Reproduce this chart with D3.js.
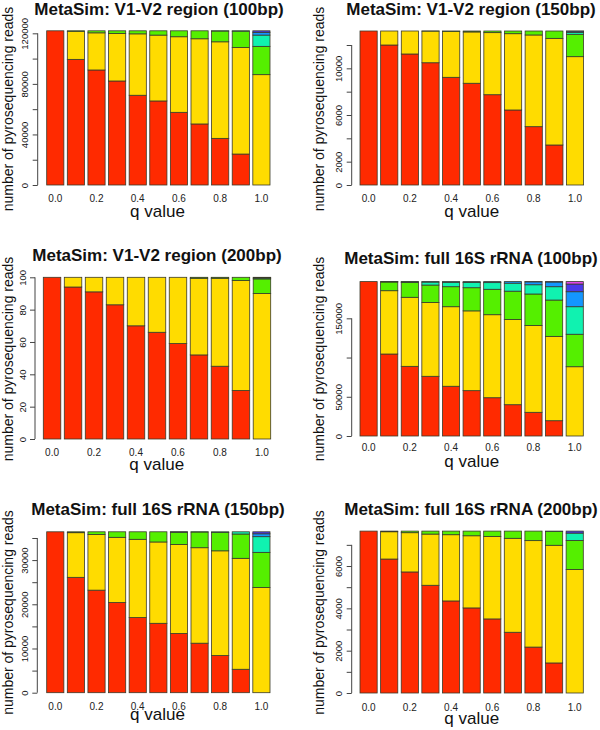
<!DOCTYPE html>
<html><head><meta charset="utf-8">
<script src="https://cdn.jsdelivr.net/npm/d3@7"></script>
<style>
body{margin:0;background:#fff}
svg{display:block}
text{font-family:"Liberation Sans",Arial,sans-serif;fill:#111}
</style>
</head><body>
<svg id="chart" width="600" height="730"></svg>
<script>
// ---------- DATA ----------
const qValues = ["0.0","0.1","0.2","0.3","0.4","0.5","0.6","0.7","0.8","0.9","1.0"];
const qTickLabels = ["0.0","0.2","0.4","0.6","0.8","1.0"];
const yLabel = "number of pyrosequencing reads";
const xLabel = "q value";
const panelTitles = [
  "MetaSim: V1-V2 region (100bp)",
  "MetaSim: V1-V2 region (150bp)",
  "MetaSim: V1-V2 region (200bp)",
  "MetaSim: full 16S rRNA (100bp)",
  "MetaSim: full 16S rRNA (150bp)",
  "MetaSim: full 16S rRNA (200bp)"
];
const seriesKeys = ["s1","s2","s3","s4","s5","s6","s7"];

// stacked series (bottom -> top), one row per stack level
const v1v2_100bp = [
  [122000, 99400, 91000, 82300, 71000, 66500, 57500, 48300, 36900, 24500, 0],
  [0, 22200, 29400, 37600, 48600, 52100, 59800, 67400, 76400, 84300, 87300],
  [0, 400, 1600, 2100, 2400, 3400, 4700, 6300, 8500, 12900, 22400],
  [0, 0, 0, 0, 0, 0, 0, 0, 200, 300, 8900],
  [0, 0, 0, 0, 0, 0, 0, 0, 0, 0, 2200],
  [0, 0, 0, 0, 0, 0, 0, 0, 0, 0, 1200],
  [0, 0, 0, 0, 0, 0, 0, 0, 0, 0, 0]
];
const v1v2_150bp = [
  [13200, 12000, 11230, 10480, 9230, 8720, 7740, 6430, 5000, 3430, 0],
  [0, 1200, 1970, 2710, 3940, 4400, 5320, 6540, 7860, 9140, 11000],
  [0, 0, 0, 10, 30, 80, 140, 230, 340, 630, 1915],
  [0, 0, 0, 0, 0, 0, 0, 0, 0, 0, 170],
  [0, 0, 0, 0, 0, 0, 0, 0, 0, 0, 100],
  [0, 0, 0, 0, 0, 0, 0, 0, 0, 0, 15],
  [0, 0, 0, 0, 0, 0, 0, 0, 0, 0, 0]
];
const v1v2_200bp = [
  [100, 94, 91, 83, 70, 66, 59, 52, 45, 30, 0],
  [0, 6, 9, 17, 30, 34, 41, 47.4, 54.4, 68, 90],
  [0, 0, 0, 0, 0, 0, 0, 0.6, 0.6, 2, 9],
  [0, 0, 0, 0, 0, 0, 0, 0, 0, 0, 0.6],
  [0, 0, 0, 0, 0, 0, 0, 0, 0, 0, 0.4],
  [0, 0, 0, 0, 0, 0, 0, 0, 0, 0, 0],
  [0, 0, 0, 0, 0, 0, 0, 0, 0, 0, 0]
];
const full16S_100bp = [
  [196800, 104500, 88800, 76100, 63400, 57800, 48800, 39900, 30200, 19500, 0],
  [0, 80700, 88000, 94100, 101400, 101700, 105800, 108600, 110600, 107500, 88300],
  [0, 11100, 19000, 22200, 25500, 29500, 32400, 36100, 40200, 46300, 41400],
  [0, 300, 700, 3800, 5600, 6800, 8500, 10200, 11800, 17000, 35100],
  [0, 200, 300, 600, 900, 1000, 1300, 2000, 3700, 6000, 19100],
  [0, 0, 0, 0, 0, 0, 0, 0, 300, 500, 9800],
  [0, 0, 0, 0, 0, 0, 0, 0, 0, 0, 3100]
];
const full16S_150bp = [
  [36400, 26100, 23200, 20400, 17000, 15700, 13400, 11200, 8400, 5300, 0],
  [0, 10100, 12600, 14750, 17700, 18400, 20150, 21600, 23700, 25100, 23800],
  [0, 200, 600, 1250, 1700, 2300, 2750, 3550, 4150, 5500, 7950],
  [0, 0, 0, 0, 0, 0, 50, 50, 150, 500, 3550],
  [0, 0, 0, 0, 0, 0, 0, 0, 0, 0, 650],
  [0, 0, 0, 0, 0, 0, 50, 0, 0, 0, 450],
  [0, 0, 0, 0, 0, 0, 0, 0, 0, 0, 0]
];
const full16S_200bp = [
  [7650, 6330, 5720, 5090, 4350, 4020, 3500, 2870, 2170, 1420, 0],
  [0, 1290, 1855, 2420, 3130, 3410, 3900, 4440, 5030, 5560, 5840],
  [0, 30, 75, 140, 170, 220, 250, 340, 450, 650, 1370],
  [0, 0, 0, 0, 0, 0, 0, 0, 0, 20, 345],
  [0, 0, 0, 0, 0, 0, 0, 0, 0, 0, 0],
  [0, 0, 0, 0, 0, 0, 0, 0, 0, 0, 95],
  [0, 0, 0, 0, 0, 0, 0, 0, 0, 0, 0]
];

// y-axis ticks and which of them carry labels
const yTicks1 = [0, 20000, 40000, 60000, 80000, 100000, 120000];
const yTickLabels1 = [0, 40000, 80000, 120000];
const yTicks2 = [0, 2000, 4000, 6000, 8000, 10000, 12000];
const yTickLabels2 = [0, 2000, 6000, 10000];
const yTicks3 = [0, 20, 40, 60, 80, 100];
const yTickLabels3 = [0, 20, 40, 60, 80, 100];
const yTicks4 = [0, 50000, 100000, 150000];
const yTickLabels4 = [0, 50000, 150000];
const yTicks5 = [0, 5000, 10000, 15000, 20000, 25000, 30000, 35000];
const yTickLabels5 = [0, 10000, 20000, 30000];
const yTicks6 = [0, 1000, 2000, 3000, 4000, 5000, 6000, 7000];
const yTickLabels6 = [0, 2000, 4000, 6000];

// ---------- STYLE / LAYOUT ----------
const colors = ["#ff2a00", "#ffdc00", "#55ef00", "#10f2b0", "#1496ff", "#4a3ae8", "#e046ec"];
const panels = [
  {data: v1v2_100bp, ticks: yTicks1, labels: yTickLabels1,
   left: 46.7, right: 270, bottom: 185, top: 30.8, axisX: 37.7,
   title: [159, 15], ylab: [12.5, 109], xtickY: 202, xlab: [157.5, 216.5]},
  {data: v1v2_150bp, ticks: yTicks2, labels: yTickLabels2,
   left: 360, right: 583.6, bottom: 185, top: 31, axisX: 351.7,
   title: [471, 15], ylab: [324, 109], xtickY: 202, xlab: [471.7, 217]},
  {data: v1v2_200bp, ticks: yTicks3, labels: yTickLabels3,
   left: 43.3, right: 270.7, bottom: 439, top: 277.3, axisX: 35,
   title: [157, 260.5], ylab: [12.5, 359], xtickY: 455.7, xlab: [156.7, 470]},
  {data: full16S_100bp, ticks: yTicks4, labels: yTickLabels4,
   left: 360, right: 583.3, bottom: 436, top: 281.6, axisX: 351.7,
   title: [471, 264], ylab: [324, 359], xtickY: 451.3, xlab: [471.7, 466.7]},
  {data: full16S_150bp, ticks: yTicks5, labels: yTickLabels5,
   left: 46.7, right: 270, bottom: 692.7, top: 531.8, axisX: 37.3,
   title: [158, 515], ylab: [13, 612.5], xtickY: 710, xlab: [157.5, 720]},
  {data: full16S_200bp, ticks: yTicks6, labels: yTickLabels6,
   left: 360, right: 583.3, bottom: 693, top: 531.1, axisX: 351.7,
   title: [471, 515], ylab: [324, 612.5], xtickY: 710.7, xlab: [471.7, 724]}
];

const svg = d3.select("#chart");

panels.forEach((p, pi) => {
  const g = svg.append("g");
  const rows = qValues.map((q, i) => {
    const r = {q};
    seriesKeys.forEach((k, j) => r[k] = p.data[j][i]);
    return r;
  });
  const total = d3.sum(p.data, s => s[0]);
  const x = d3.scaleBand().domain(qValues).range([p.left, p.right])
              .paddingInner(1/6).paddingOuter(0);
  const y = d3.scaleLinear().domain([0, total]).range([p.bottom, p.top]);
  const stacked = d3.stack().keys(seriesKeys)(rows);

  stacked.forEach((layer, li) => {
    g.append("g").selectAll("rect")
      .data(layer.filter(d => d[1] - d[0] > 0))
      .join("rect")
      .attr("x", d => x(d.data.q))
      .attr("width", x.bandwidth())
      .attr("y", d => y(d[1]))
      .attr("height", d => y(d[0]) - y(d[1]))
      .attr("fill", colors[li])
      .attr("stroke", "#3a3a2a")
      .attr("stroke-width", 0.8);
  });

  // y axis
  const ax = g.append("g").attr("transform", `translate(${p.axisX},0)`)
    .call(d3.axisLeft(y).tickValues(p.ticks).tickSize(5)
      .tickFormat(d => p.labels.includes(d) ? String(d) : ""));
  ax.select(".domain").remove();
  ax.append("line")
    .attr("x1", 0).attr("x2", 0)
    .attr("y1", y(p.ticks[0])).attr("y2", y(p.ticks[p.ticks.length - 1]))
    .attr("stroke", "#444");
  ax.selectAll(".tick line").attr("stroke", "#444");
  ax.selectAll(".tick text")
    .attr("x", 0).attr("y", -9.5).attr("dy", 0)
    .attr("transform", "rotate(-90)")
    .style("text-anchor", "middle")
    .style("font-family", '"Liberation Sans",Arial,sans-serif')
    .style("font-size", "9.5px")
    .attr("fill", "#222");

  // x tick labels (every other category)
  g.selectAll("text.xt").data(qTickLabels).join("text")
    .attr("class", "xt")
    .attr("x", d => x(d) + x.bandwidth() / 2)
    .attr("y", p.xtickY)
    .attr("text-anchor", "middle")
    .style("font-size", "10px")
    .style("fill", "#222")
    .text(d => d);

  // titles and axis labels
  g.append("text").attr("x", p.title[0]).attr("y", p.title[1])
    .attr("text-anchor", "middle")
    .style("font-size", "17px").style("font-weight", "bold")
    .text(panelTitles[pi]);
  g.append("text")
    .attr("transform", `translate(${p.ylab[0]},${p.ylab[1]}) rotate(-90)`)
    .attr("text-anchor", "middle")
    .style("font-size", "14px")
    .text(yLabel);
  g.append("text").attr("x", p.xlab[0]).attr("y", p.xlab[1])
    .attr("text-anchor", "middle")
    .style("font-size", "17px")
    .text(xLabel);
});
</script>
</body></html>
